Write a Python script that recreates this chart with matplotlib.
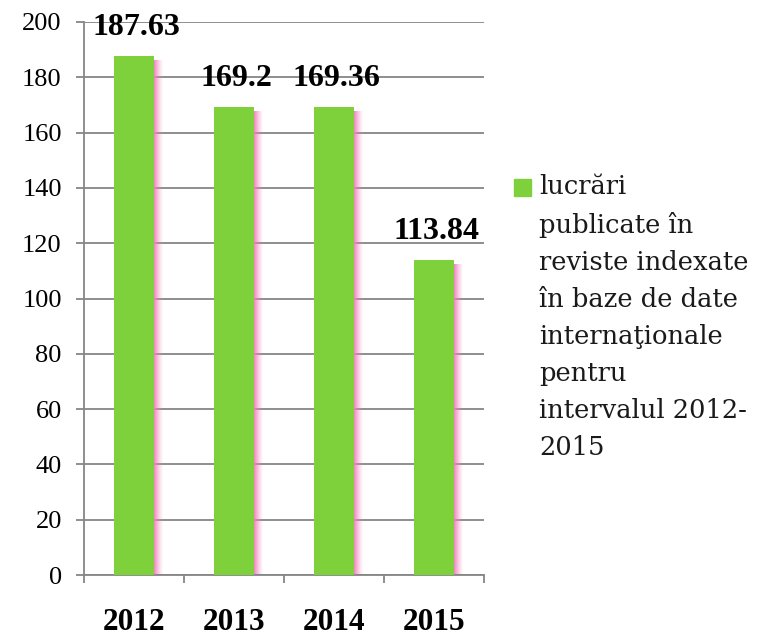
import matplotlib
matplotlib.use("Agg")
import matplotlib.pyplot as plt
from matplotlib.patches import Rectangle
import numpy as np

categories = ["2012", "2013", "2014", "2015"]
values = [187.63, 169.2, 169.36, 113.84]
value_labels = ["187.63", "169.2", "169.36", "113.84"]
yticks = [0, 20, 40, 60, 80, 100, 120, 140, 160, 180, 200]
legend_label = ("lucrări\npublicate în\nreviste indexate\nîn baze de date\n"
                "internaţionale\npentru\nintervalul 2012-\n2015")

W, H = 773, 638
fig = plt.figure(figsize=(W / 100, H / 100), dpi=100)
ax = fig.add_axes([84 / W, 1 - 575 / H, 400 / W, 553 / H])

x = np.arange(len(categories))
green = "#7fd13b"
grid_c = "#868686"

# soft pink shadow on right of bars
nstrip = 9
for k in range(nstrip):
    a = 0.9 * (1 - k / nstrip) ** 1.3
    ax.bar(x + 0.2 + 0.01 * k + 0.005, np.array(values) - 1.5, width=0.01,
           bottom=0, color="#f080bb", alpha=a, linewidth=0, zorder=2)

ax.bar(x, values, width=0.4, color=green, linewidth=0, zorder=3)

for xi, v, lab in zip(x, values, value_labels):
    ax.annotate(lab, (xi, v), xytext=(2, 15), textcoords="offset points",
                ha="center", va="baseline", fontsize=23, fontweight="bold",
                family="Liberation Serif", zorder=5, annotation_clip=False)

ax.set_xlim(-0.5, len(categories) - 0.5)
ax.set_ylim(0, 200)
ax.set_yticks(yticks)
ax.set_yticklabels([str(t) for t in yticks], family="Liberation Serif", fontsize=19)
ax.yaxis.grid(True, color=grid_c, linewidth=1.3, zorder=0)
ax.set_axisbelow(True)

ax.set_xticks(np.arange(len(categories) + 1) - 0.5, minor=False)
ax.set_xticklabels([])
ax.set_xticks(x, minor=True)
ax.set_xticklabels(categories, minor=True, family="Liberation Serif",
                   fontsize=22.5, fontweight="bold")
ax.tick_params(axis="x", which="major", length=6, color=grid_c, width=1.3, direction="out")
ax.tick_params(axis="x", which="minor", length=0, pad=24)
ax.tick_params(axis="y", length=6, color=grid_c, width=1.3, pad=10)

for s in ["top", "right"]:
    ax.spines[s].set_visible(False)
for s in ["left", "bottom"]:
    ax.spines[s].set_color(grid_c)
    ax.spines[s].set_linewidth(1.3)

# legend
fig.patches.append(Rectangle((514 / W, 1 - 196 / H), 17 / W, 17 / H,
                             transform=fig.transFigure, color=green, figure=fig))
fig.text(539 / W, 1 - 174 / H, legend_label, ha="left", va="top",
         family="DejaVu Serif", fontsize=18.5, linespacing=1.6, color="#1a1a1a")

fig.savefig("out.png", dpi=100, facecolor="white")
